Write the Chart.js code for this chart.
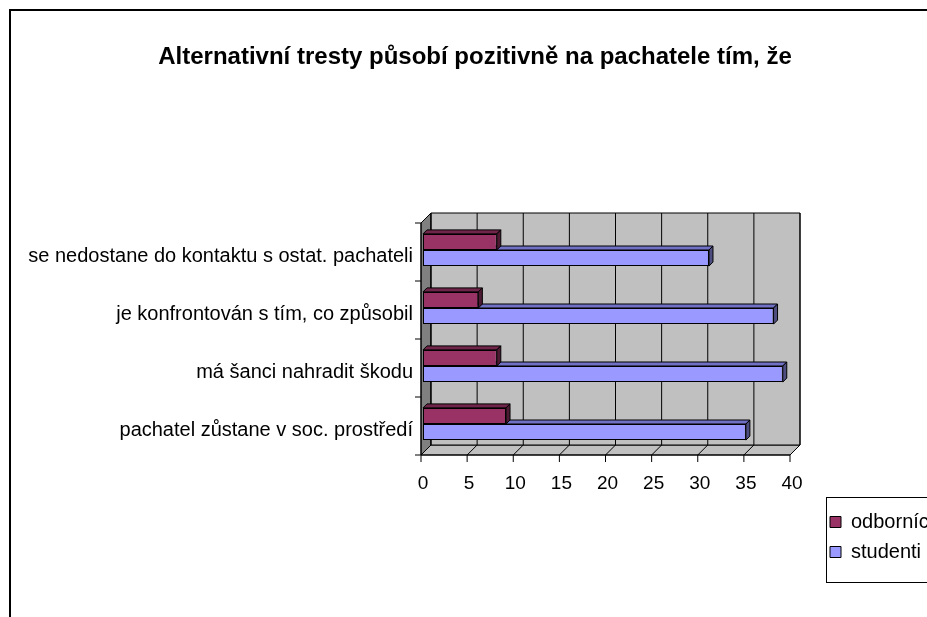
<!DOCTYPE html>
<html>
<head>
<meta charset="utf-8">
<script src="https://cdn.jsdelivr.net/npm/chart.js@4.4.1/dist/chart.umd.min.js"></script>
<style>
  body { margin: 0; background: #fff; }
  canvas { display: block; }
</style>
</head>
<body>
<canvas id="chart" width="927" height="617"></canvas>
<script>
const categories = [
  'se nedostane do kontaktu s ostat. pachateli',
  'je konfrontován s tím, co způsobil',
  'má šanci nahradit škodu',
  'pachatel zůstane v soc. prostředí',
];
const odbornici = [8, 6, 8, 9];
const studenti = [31, 38, 39, 35];
const xMin = 0;
const xMax = 40;
const xStep = 5;

const sans = "'Liberation Sans', Arial, sans-serif";
const topFaces = ['#6e2549', '#7070c4'];
const sideFaces = ['#4d1a33', '#4d4d80'];

function poly(ctx, pts, fill) {
  ctx.beginPath();
  ctx.moveTo(pts[0][0], pts[0][1]);
  for (let i = 1; i < pts.length; i++) ctx.lineTo(pts[i][0], pts[i][1]);
  ctx.closePath();
  if (fill) { ctx.fillStyle = fill; ctx.fill(); }
  ctx.stroke();
}

function line(ctx, x1, y1, x2, y2) {
  ctx.beginPath();
  ctx.moveTo(x1, y1);
  ctx.lineTo(x2, y2);
  ctx.stroke();
}

// excel style 3d walls, floor and axes
const walls3d = {
  id: 'walls3d',
  beforeDatasetsDraw(chart) {
    const { ctx, chartArea: a, scales: { x, y } } = chart;
    const f = { l: a.left - 2, r: a.right - 2, t: a.top + 2, b: a.bottom + 2 };
    const k = { l: a.left + 8, r: a.right + 8, t: a.top - 8, b: a.bottom - 8 };
    ctx.save();
    ctx.lineWidth = 1;
    ctx.strokeStyle = '#000';
    poly(ctx, [[f.l, f.t], [k.l, k.t], [k.l, k.b], [f.l, f.b]], '#808080');
    poly(ctx, [[f.l, f.b], [k.l, k.b], [k.r, k.b], [f.r, f.b]], '#c0c0c0');
    poly(ctx, [[k.l, k.t], [k.r, k.t], [k.r, k.b], [k.l, k.b]], '#c0c0c0');
    x.ticks.forEach(t => {
      const px = x.getPixelForValue(t.value);
      line(ctx, px + 8, k.t, px + 8, k.b);
      line(ctx, px - 2, f.b, px + 8, k.b);
      line(ctx, px - 2, f.b, px - 2, f.b + 7);
    });
    line(ctx, f.l, f.b, f.r, f.b);
    line(ctx, f.l, f.t, f.l, f.b);
    for (let i = 0; i <= categories.length; i++) {
      const py = y.getPixelForValue(i - 0.5) + 2;
      line(ctx, f.l - 6, py, f.l, py);
    }
    ctx.restore();
  },
  afterDatasetDraw(chart, args) {
    const ctx = chart.ctx;
    const d = 4;
    ctx.save();
    ctx.lineWidth = 1;
    ctx.strokeStyle = '#000';
    args.meta.data.forEach(bar => {
      const { x, y, base, height } = bar.getProps(['x', 'y', 'base', 'height'], true);
      const top = y - height / 2;
      const bot = y + height / 2;
      poly(ctx, [[base, top], [base + d, top - d], [x + d, top - d], [x, top]], topFaces[args.index]);
      poly(ctx, [[x, top], [x + d, top - d], [x + d, bot - d], [x, bot]], sideFaces[args.index]);
    });
    ctx.restore();
  },
  afterDraw(chart) {
    const ctx = chart.ctx;
    ctx.save();
    ctx.strokeStyle = '#000';
    ctx.lineWidth = 2;
    ctx.strokeRect(10, 10, 2000, 2000);
    ctx.lineWidth = 1;
    ctx.strokeRect(826.5, 497.5, 200, 85);
    ctx.restore();
  },
};

// put the legend box down to the right like in excel
const legendSpot = {
  id: 'legendSpot',
  afterLayout(chart) {
    const lg = chart.legend;
    const w = lg.width, h = lg.height;
    lg.left = 820;
    lg.top = 502;
    lg.right = lg.left + w;
    lg.bottom = lg.top + h;
  },
};

Chart.defaults.color = '#000';

new Chart(document.getElementById('chart'), {
  type: 'bar',
  data: {
    labels: categories,
    datasets: [
      {
        label: 'odborníci',
        data: odbornici,
        backgroundColor: '#993366',
        borderColor: '#000',
        borderWidth: 1,
        borderSkipped: false,
      },
      {
        label: 'studenti',
        data: studenti,
        backgroundColor: '#9999ff',
        borderColor: '#000',
        borderWidth: 1,
        borderSkipped: false,
      },
    ],
  },
  options: {
    indexAxis: 'y',
    responsive: false,
    animation: false,
    datasets: {
      bar: { categoryPercentage: 0.555, barPercentage: 1 },
    },
    layout: { padding: { left: 23, right: 0, top: 34, bottom: 0 } },
    plugins: {
      title: {
        display: true,
        text: 'Alternativní tresty působí pozitivně na pachatele tím, že',
        color: '#000',
        font: { family: sans, size: 24, weight: 'bold' },
        padding: { top: 9, bottom: 149.2 },
      },
      legend: {
        position: 'chartArea',
        align: 'start',
        labels: {
          boxWidth: 11,
          boxHeight: 11,
          padding: 10,
          color: '#000',
          font: { family: sans, size: 20 },
        },
      },
      tooltip: { enabled: false },
    },
    scales: {
      x: {
        min: xMin,
        max: xMax,
        ticks: { stepSize: xStep, padding: 19, font: { family: sans, size: 19 } },
        grid: { display: false, drawTicks: false },
        border: { display: false },
        afterFit: s => { s.height = 164; },
      },
      y: {
        ticks: { padding: 10, labelOffset: 6, font: { family: sans, size: 20 } },
        grid: { display: false, drawTicks: false },
        border: { display: false },
        afterFit: s => { s.width = 400; },
      },
      // empty room between the plot and the legend
      gap: {
        axis: 'y',
        type: 'category',
        position: 'right',
        ticks: { display: false },
        grid: { display: false, drawTicks: false },
        border: { display: false },
        afterFit: s => { s.width = 135; },
      },
    },
  },
  plugins: [walls3d, legendSpot],
});
</script>
</body>
</html>
